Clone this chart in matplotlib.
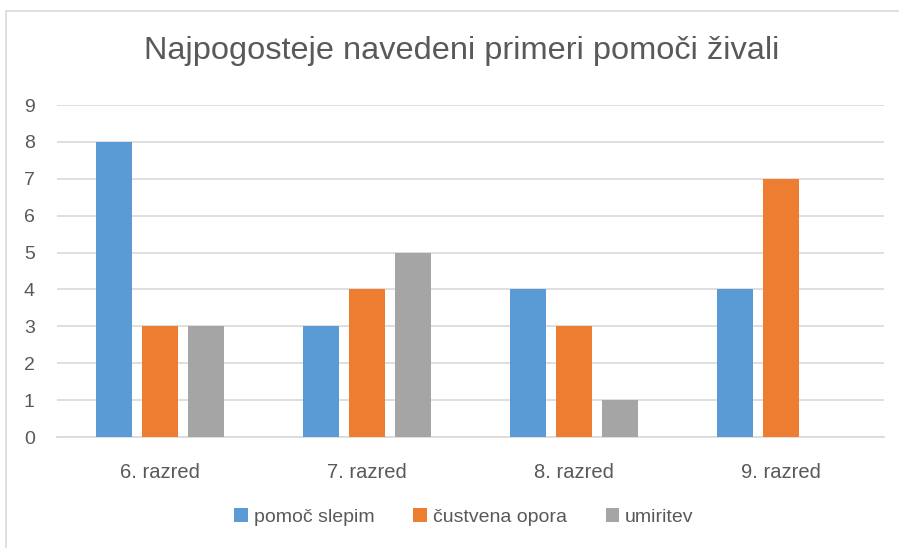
import matplotlib
matplotlib.use("Agg")
import matplotlib.pyplot as plt
import numpy as np
from matplotlib.patches import Rectangle

categories = ["6. razred", "7. razred", "8. razred", "9. razred"]
series_names = ["pomoč slepim", "čustvena opora", "umiritev"]
pomoc_slepim = [8, 3, 4, 4]
custvena_opora = [3, 4, 3, 7]
umiritev = [3, 5, 1, 0]
yticks = list(range(0, 10))

colors = ["#5B9BD5", "#ED7D31", "#A5A5A5"]
text_color = "#595959"
font = "Liberation Sans"

fig = plt.figure(figsize=(8.99, 5.48), dpi=100)
W, H = 899, 548
# chart frame
fig.patches.append(Rectangle((6 / W, -0.01), 1.0, 1 - 11 / H + 0.01, transform=fig.transFigure,
                             fill=False, edgecolor="#D9D9D9", linewidth=1.2))

ax = fig.add_axes([57 / W, (H - 437) / H, 827 / W, 332 / H])
x = np.arange(len(categories))
bw = 0.174
step = 0.2225
for i, (vals, name) in enumerate(zip([pomoc_slepim, custvena_opora, umiritev], series_names)):
    ax.bar(x + (i - 1) * step, vals, width=bw, color=colors[i], label=name, zorder=3)

ax.set_xlim(-0.5, len(categories) - 0.5)
ax.set_ylim(0, 9)
ax.set_yticks(yticks)
ax.set_yticklabels([str(t) for t in yticks], fontsize=14, color=text_color, family=font)
ax.set_xticks(x)
ax.set_xticklabels(categories, fontsize=14.5, color=text_color, family=font)
ax.tick_params(axis="y", length=0, pad=16)
ax.tick_params(axis="x", length=0, pad=19)
ax.grid(axis="y", color="#D9D9D9", linewidth=1.2, zorder=0)
for s in ["top", "right", "left"]:
    ax.spines[s].set_visible(False)
ax.spines["bottom"].set_color("#D9D9D9")
ax.spines["bottom"].set_linewidth(1.2)

fig.text(462 / W, 1 - 51 / H, "Najpogosteje navedeni primeri pomoči živali", ha="center", va="center",
         fontsize=23.4, color=text_color, family=font)

leg = fig.legend(loc="center", bbox_to_anchor=(464 / W, 1 - 517 / H), ncol=3, frameon=False,
                 prop={"family": font, "size": 14}, handlelength=0.7, handleheight=0.7,
                 handletextpad=0.3, columnspacing=2.0)
for t in leg.get_texts():
    t.set_color(text_color)

fig.savefig("out.png", dpi=100)
